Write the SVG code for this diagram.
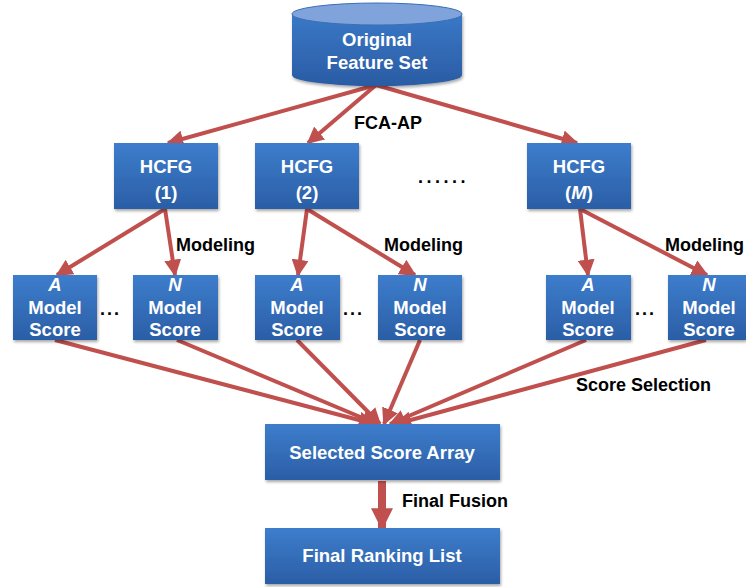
<svg xmlns="http://www.w3.org/2000/svg" width="746" height="587" viewBox="0 0 746 587">
<defs>
<linearGradient id="bg" x1="0" y1="0" x2="0" y2="1">
<stop offset="0" stop-color="#3d7dcc"/>
<stop offset="1" stop-color="#2b5ea6"/>
</linearGradient>
<linearGradient id="cyl" x1="0" y1="0" x2="0" y2="1">
<stop offset="0" stop-color="#3a78c6"/>
<stop offset="1" stop-color="#2a5ca4"/>
</linearGradient>
<filter id="sh" x="-10%" y="-10%" width="130%" height="130%">
<feDropShadow dx="1" dy="2" stdDeviation="1.5" flood-color="#000" flood-opacity="0.35"/>
</filter>
<marker id="ah" viewBox="0 0 10 10" refX="9" refY="5" markerWidth="17" markerHeight="17" markerUnits="userSpaceOnUse" orient="auto">
<path d="M0,0 L10,5 L0,10 Z" fill="#c0504d"/>
</marker>
<marker id="ahb" viewBox="0 0 10 10" refX="9" refY="5" markerWidth="22" markerHeight="22" markerUnits="userSpaceOnUse" orient="auto">
<path d="M0,0 L10,5 L0,10 Z" fill="#c0504d"/>
</marker>
<style>
.box{fill:url(#bg);filter:url(#sh)}
.t{font-family:"Liberation Sans",Arial,sans-serif;font-weight:bold;fill:#fff;text-anchor:middle;font-size:18.5px}
.l{font-family:"Liberation Sans",Arial,sans-serif;font-weight:bold;fill:#000;font-size:18px}
.c{stroke:#c0504d;stroke-width:4;fill:none;marker-end:url(#ah)}
</style>
</defs>
<rect width="746" height="587" fill="#fff"/>

<g id="connectors">
<line class="c" x1="376" y1="85" x2="168" y2="143"/>
<line class="c" x1="376" y1="85" x2="308" y2="143"/>
<line class="c" x1="376" y1="85" x2="577" y2="143"/>
<line class="c" x1="165" y1="209" x2="57" y2="275"/>
<line class="c" x1="165" y1="209" x2="175" y2="275"/>
<line class="c" x1="307" y1="209" x2="298" y2="275"/>
<line class="c" x1="307" y1="209" x2="415" y2="275"/>
<line class="c" x1="580" y1="209" x2="588" y2="275"/>
<line class="c" x1="580" y1="209" x2="707" y2="275"/>
<line class="c" x1="55" y1="340" x2="374" y2="424"/>
<line class="c" x1="177" y1="340" x2="377" y2="424"/>
<line class="c" x1="297" y1="340" x2="380" y2="424"/>
<line class="c" x1="420" y1="340" x2="384" y2="424"/>
<line class="c" x1="586" y1="340" x2="390" y2="424"/>
<line class="c" x1="706" y1="340" x2="396" y2="424"/>
<line x1="382" y1="481" x2="382" y2="528" stroke="#c0504d" stroke-width="8" marker-end="url(#ahb)"/>
</g>

<g id="original">
<path d="M292,14 L292,75 A85,11 0 0 0 462,75 L462,14 Z" fill="url(#cyl)" filter="url(#sh)"/>
<ellipse cx="377" cy="14" rx="85" ry="11" fill="#7fa3da" stroke="#3a6fb8" stroke-width="1"/>
<text class="t" x="377" y="46">Original</text>
<text class="t" x="377" y="69">Feature Set</text>
</g>

<g id="hcfg1"><rect class="box" x="114" y="143" width="104" height="66"/>
<text class="t" x="166" y="173">HCFG</text><text class="t" x="166" y="199">(1)</text></g>
<g id="hcfg2"><rect class="box" x="255" y="143" width="104" height="66"/>
<text class="t" x="307" y="173">HCFG</text><text class="t" x="307" y="199">(2)</text></g>
<g id="hcfgM"><rect class="box" x="527" y="143" width="104" height="66"/>
<text class="t" x="579" y="173">HCFG</text><text class="t" x="579" y="199">(<tspan font-style="italic">M</tspan>)</text></g>

<g id="a1"><rect class="box" x="13" y="275" width="84" height="65"/>
<text class="t" x="55" y="291" font-style="italic">A</text><text class="t" x="55" y="314">Model</text><text class="t" x="55" y="336">Score</text></g>
<g id="n1"><rect class="box" x="133" y="275" width="85" height="65"/>
<text class="t" x="175" y="291" font-style="italic">N</text><text class="t" x="175" y="314">Model</text><text class="t" x="175" y="336">Score</text></g>
<g id="a2"><rect class="box" x="255" y="275" width="85" height="65"/>
<text class="t" x="297" y="291" font-style="italic">A</text><text class="t" x="297" y="314">Model</text><text class="t" x="297" y="336">Score</text></g>
<g id="n2"><rect class="box" x="378" y="275" width="84" height="65"/>
<text class="t" x="420" y="291" font-style="italic">N</text><text class="t" x="420" y="314">Model</text><text class="t" x="420" y="336">Score</text></g>
<g id="a3"><rect class="box" x="546" y="275" width="85" height="65"/>
<text class="t" x="588" y="291" font-style="italic">A</text><text class="t" x="588" y="314">Model</text><text class="t" x="588" y="336">Score</text></g>
<g id="n3"><rect class="box" x="668" y="275" width="78" height="65"/>
<text class="t" x="709" y="291" font-style="italic">N</text><text class="t" x="709" y="314">Model</text><text class="t" x="709" y="336">Score</text></g>

<g id="selected"><rect class="box" x="265" y="424" width="235" height="56"/>
<text class="t" x="382" y="459">Selected Score Array</text></g>
<g id="final"><rect class="box" x="265" y="528" width="235" height="56"/>
<text class="t" x="382" y="562">Final Ranking List</text></g>

<g id="labels">
<text class="l" x="354" y="129">FCA-AP</text>
<text class="l" x="176" y="251">Modeling</text>
<text class="l" x="384" y="251">Modeling</text>
<text class="l" x="665" y="251">Modeling</text>
<text class="l" x="576" y="391">Score Selection</text>
<text class="l" x="402" y="507">Final Fusion</text>
<text class="l" x="418" y="183" letter-spacing="3.5">......</text>
<text class="l" x="100" y="315" letter-spacing="2">...</text>
<text class="l" x="343" y="315" letter-spacing="2">...</text>
<text class="l" x="635" y="315" letter-spacing="2">...</text>
</g>
</svg>
